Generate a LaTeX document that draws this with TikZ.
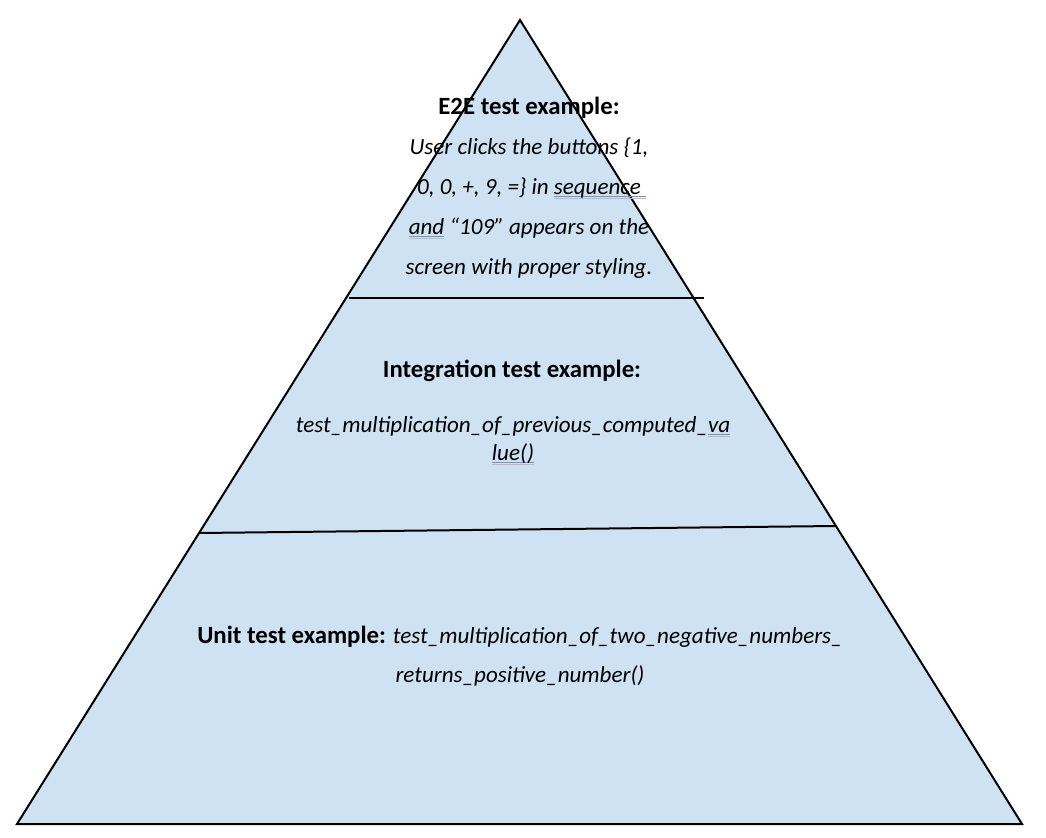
\documentclass[tikz,border=0pt]{standalone}
\usepackage{fontspec}
\setmainfont{Carlito}
\usepackage{tikz}
\usetikzlibrary{positioning}
\definecolor{ink}     {HTML}{000000}
\definecolor{tier}    {HTML}{CFE2F3}
\definecolor{squiggle}{HTML}{7F8FA9}
% grammar-check double underline
\newlength\gramwd
\newcommand\gramline[1]{\settowidth\gramwd{#1}%
  \rlap{\textcolor{squiggle}{\rule[-2.6pt]{\gramwd}{0.8pt}}}%
  \rlap{\textcolor{squiggle!60}{\rule[-4.0pt]{\gramwd}{0.7pt}}}#1}
\tikzset{
  % --- shapes
  level/.style   = {draw=ink, fill=tier, line width=1.5pt, line join=miter},
  divider/.style = {draw=ink, line width=1.5pt},
  % --- texts
  ttl/.style     = {font=\fontsize{18.6}{20}\selectfont\bfseries, anchor=base, inner sep=0pt},
  body/.style    = {font=\fontsize{17.3}{30}\selectfont\itshape, align=center,
                    anchor=base, inner sep=0pt},
}
\newcommand\hdr[1]{\textbf{\textup{\fontsize{18.6}{20}\selectfont #1}}}
\begin{document}
\begin{tikzpicture}[x=0.75pt,y=-0.75pt]
  \useasboundingbox (0,0) rectangle (1046,838);
  % pyramid
  \coordinate (apex) at (520,20);
  \coordinate (bl) at (17,824);
  \coordinate (br) at (1022,824);
  \draw[level] (apex) -- (br) -- (bl) -- cycle;
  % tier borders
  \coordinate (t1l) at (349,298);
  \coordinate (t1r) at (704,298);
  \coordinate (t2l) at (199,533);
  \coordinate (t2r) at (836,526);
  \draw[divider] (t1l) -- (t1r);
  \draw[divider] (t2l) -- (t2r);
  % top: e2e (anchored on last line)
  \node[body] (e2e) at (529,274)
    {\hdr{E2E test example:}\\
     User clicks the buttons \{1,\\
     0, 0, +, 9, =\} in \gramline{sequence\ }\\
     \gramline{and} ``109''\ appears on the\\
     screen with proper styling.};
  % middle: integration
  \node[ttl] (integ) at (512,377) {Integration test example:};
  \node[body, font=\fontsize{17.3}{21}\selectfont\itshape] (integex) at (513,460)
    {test\_multiplication\_of\_previous\_computed\_\gramline{va}\\
     \gramline{lue()}};
  % bottom: unit
  \node[body, font=\fontsize{17.3}{29}\selectfont\itshape] (unit) at (520,682)
    {\hdr{Unit test example:} test\_multiplication\_of\_two\_negative\_numbers\_\\
     returns\_positive\_number()};
\end{tikzpicture}
\end{document}
